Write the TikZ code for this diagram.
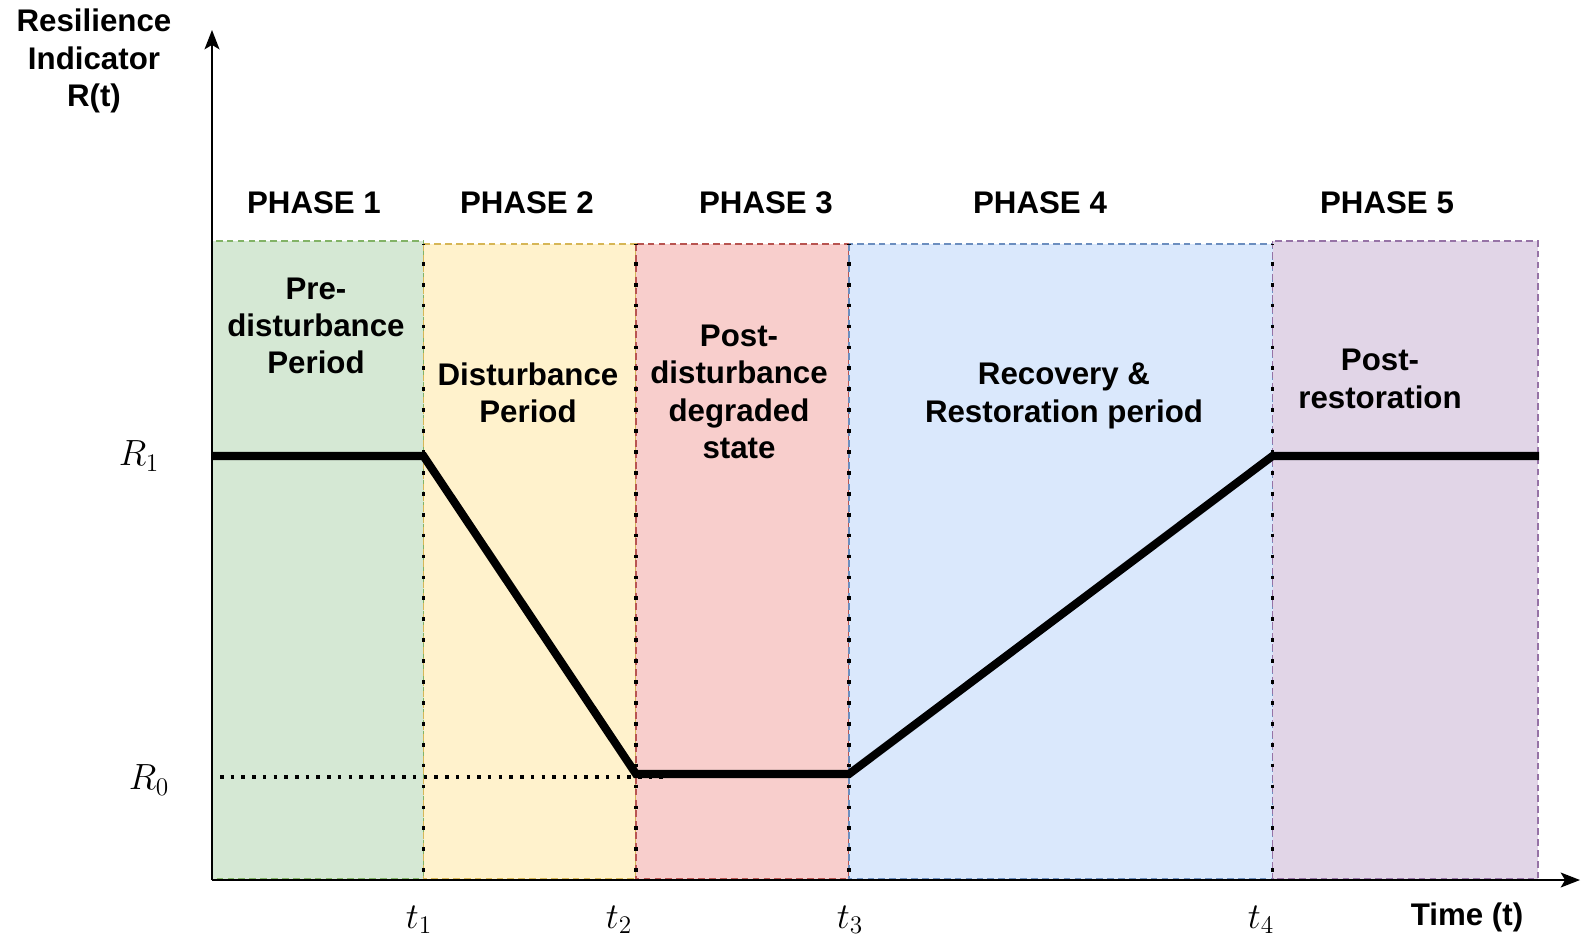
\documentclass[tikz,border=0pt]{standalone}
\usepackage{fontspec}
\setmainfont{Liberation Sans}
\usetikzlibrary{arrows.meta}
\definecolor{gfill}{HTML}{D5E8D4}\definecolor{gdraw}{HTML}{82B366}
\definecolor{yfill}{HTML}{FFF2CC}\definecolor{ydraw}{HTML}{D6B656}
\definecolor{rfill}{HTML}{F8CECC}\definecolor{rdraw}{HTML}{B85450}
\definecolor{bfill}{HTML}{DAE8FC}\definecolor{bdraw}{HTML}{6C8EBF}
\definecolor{pfill}{HTML}{E1D5E7}\definecolor{pdraw}{HTML}{9673A6}
\begin{document}
\begin{tikzpicture}[x=0.02cm,y=-0.02cm,
  lbl/.style={font=\fontsize{17.8}{21.2}\selectfont\bfseries, align=center, inner sep=0pt},
  mathlbl/.style={font=\fontsize{20}{24}\selectfont, inner sep=0pt},
  phasebox/.style={line width=1.1pt, dash pattern=on 3.8pt off 2.4pt},
  divider/.style={line width=2.1pt, dash pattern=on 2.1pt off 9.8pt, dash phase=1.7pt},
  levelline/.style={line width=2pt, dash pattern=on 2pt off 4.1pt},
  curve/.style={line width=4.6pt, line join=miter},
  axis/.style={line width=1.1pt, -{Stealth[length=11pt,width=8.5pt,inset=2.5pt]}}
]
\useasboundingbox (0,0) rectangle (1581,938);
% phase boxes
\draw[phasebox, fill=gfill, draw=gdraw] (212,241) rectangle (423.5,879);
\draw[phasebox, fill=yfill, draw=ydraw] (423.5,244) rectangle (636,879);
\draw[phasebox, fill=rfill, draw=rdraw] (636,244) rectangle (849,879);
\draw[phasebox, fill=bfill, draw=bdraw] (849,244) rectangle (1272.5,879);
\draw[phasebox, fill=pfill, draw=pdraw] (1272.5,241) rectangle (1538,879);
% dividers
\coordinate (d1t) at (423.5,244); \coordinate (d1b) at (423.5,880);
\coordinate (d2t) at (636,244);   \coordinate (d2b) at (636,880);
\coordinate (d3t) at (849,244);   \coordinate (d3b) at (849,880);
\coordinate (d4t) at (1272.5,244);\coordinate (d4b) at (1272.5,880);
\draw[divider] (d1t) -- (d1b);
\draw[divider] (d2t) -- (d2b);
\draw[divider] (d3t) -- (d3b);
\draw[divider] (d4t) -- (d4b);
% R0 level
\coordinate (l0a) at (220,777); \coordinate (l0b) at (668,777);
\draw[levelline] (l0a) -- (l0b);
% resilience curve
\coordinate (c0) at (212,456);
\coordinate (c1) at (423.5,456);
\coordinate (c2) at (636,774);
\coordinate (c3) at (849,774);
\coordinate (c4) at (1272.5,456);
\coordinate (c5) at (1539,456);
\draw[curve] (c0) -- (c1) -- (c2) -- (c3) -- (c4) -- (c5);
% axes
\coordinate (o) at (212,880);
\coordinate (ytop) at (212,30);
\coordinate (xend) at (1580,880);
\draw[axis] (o) -- (ytop);
\draw[axis] (o) -- (xend);
% labels
\node[lbl] (ylab) at (94,61) {Resilience\\Indicator\\R(t)};
\node[lbl] (xlab) at (1467,917) {Time (t)};
\node[lbl] (ph1) at (314,203) {PHASE 1};
\node[lbl] (ph2) at (527,203) {PHASE 2};
\node[lbl] (ph3) at (766,203) {PHASE 3};
\node[lbl] (ph4) at (1040,203) {PHASE 4};
\node[lbl] (ph5) at (1387,203) {PHASE 5};
\node[lbl] (b1) at (316,326) {Pre-\\disturbance\\Period};
\node[lbl] (b2) at (528,393) {Disturbance\\Period};
\node[lbl] (b3) at (739,392) {Post-\\disturbance\\degraded\\state};
\node[lbl] (b4) at (1064,396) {Recovery \&\\Restoration period};
\node[lbl] (b5) at (1380,379) {Post-\\restoration};
\node[mathlbl] (r1) at (139,456) {$R_1$};
\node[mathlbl] (r0) at (149,780) {$R_0$};
\node[mathlbl] (t1) at (419,920) {$t_1$};
\node[mathlbl] (t2) at (619,920) {$t_2$};
\node[mathlbl] (t3) at (850,920) {$t_3$};
\node[mathlbl] (t4) at (1261,920) {$t_4$};
\end{tikzpicture}
\end{document}
